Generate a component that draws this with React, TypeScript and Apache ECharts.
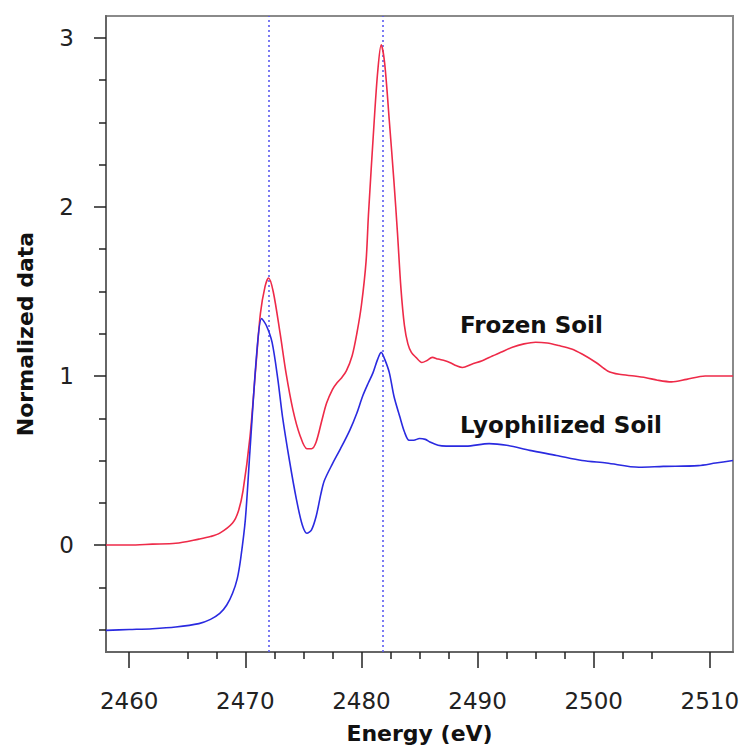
import React, { useEffect, useRef } from "react";
import * as echarts from "echarts";

const frozenE = [2458, 2460, 2462, 2464, 2466, 2467, 2467.8, 2468.9, 2469.4, 2469.8, 2470.4, 2470.9, 2471.3, 2471.7, 2472.0, 2472.4, 2473.0, 2473.5, 2474.1, 2474.7, 2475.3, 2475.7, 2476.1, 2476.6, 2477.0, 2477.5, 2477.9, 2478.3, 2478.7, 2479.2, 2479.6, 2480.0, 2480.4, 2480.6, 2481.1, 2481.4, 2481.7, 2482.0, 2482.4, 2482.8, 2483.1, 2483.4, 2483.7, 2484.0, 2484.3, 2484.7, 2485.2, 2485.6, 2486.1, 2486.6, 2487.2, 2487.6, 2488.2, 2488.7, 2489.5, 2490.4, 2491.0, 2492.0, 2493.0, 2494.0, 2495.0, 2496.0, 2497.0, 2498.1, 2499.0, 2500.2, 2501.2, 2502.2, 2503.5, 2504.5, 2505.5, 2506.7, 2508.0, 2509.6, 2511, 2512];
const frozenY = [0.0, 0.0, 0.005, 0.01, 0.035, 0.05, 0.07, 0.13, 0.2, 0.32, 0.64, 1.05, 1.37, 1.53, 1.58, 1.5, 1.25, 1.02, 0.8, 0.65, 0.57, 0.57, 0.61, 0.74, 0.84, 0.92, 0.96, 0.99, 1.03, 1.12, 1.25, 1.42, 1.68, 1.95, 2.51, 2.8, 2.96, 2.85, 2.51, 2.15, 1.85, 1.52, 1.3, 1.19, 1.14, 1.11, 1.08, 1.09, 1.11, 1.1, 1.09, 1.08, 1.06, 1.05, 1.07, 1.09, 1.11, 1.14, 1.17, 1.19, 1.2, 1.195, 1.18, 1.16, 1.13, 1.08, 1.03, 1.01, 1.0, 0.99, 0.975, 0.965, 0.98, 1.0, 1.0, 1.0];

const lyoE = [2458, 2460, 2462, 2464, 2466, 2467, 2467.8, 2468.4, 2468.9, 2469.3, 2469.6, 2470.0, 2470.4, 2471.0, 2471.4, 2471.8, 2472.3, 2472.8, 2473.2, 2473.8, 2474.4, 2474.9, 2475.3, 2475.7, 2476.1, 2476.5, 2476.8, 2477.5, 2478.2, 2479.0, 2479.6, 2480.1, 2480.6, 2481.0, 2481.4, 2481.7, 2482.0, 2482.4, 2482.8, 2483.3, 2483.7, 2484.1, 2484.5, 2485.0, 2485.5, 2485.9, 2486.6, 2487.3, 2489.0, 2491.0, 2492.5, 2494.5, 2496.8, 2499.0, 2501.1, 2503.9, 2506.0, 2509.0, 2510.5, 2512];
const lyoY = [-0.505, -0.5, -0.495, -0.485, -0.465, -0.44, -0.405, -0.355, -0.285, -0.2, -0.08, 0.15, 0.56, 1.15, 1.34, 1.3, 1.2, 0.98, 0.76, 0.5, 0.27, 0.12, 0.07, 0.09, 0.17, 0.3, 0.38, 0.48, 0.57, 0.68, 0.78, 0.88, 0.96, 1.02, 1.1, 1.14, 1.1, 1.02, 0.88, 0.76, 0.67, 0.62, 0.62, 0.63, 0.625, 0.61, 0.59, 0.585, 0.585, 0.6, 0.59, 0.56, 0.53, 0.5, 0.485, 0.46, 0.465, 0.47, 0.485, 0.5];

const edgeMarkers = [2472.0, 2481.8];

const xMajorTicks = [2460, 2470, 2480, 2490, 2500, 2510];
const xMinorTicks = [2465, 2467.5, 2472.5, 2475, 2477.5, 2482.5, 2485, 2487.5, 2492.5, 2495, 2497.5, 2502.5, 2505];
const yMajorTicks = [0, 1, 2, 3];
const yMinorTicks = [-0.5, -0.25, 0.25, 0.5, 0.75, 1.25, 1.5, 1.75, 2.25, 2.5, 2.75];

const seriesNames = ["Frozen Soil", "Lyophilized Soil"];

const FONT = "DejaVu Sans";

export default function App() {
  const ref = useRef<HTMLDivElement>(null);
  useEffect(() => {
    if (!ref.current) return;
    const chart = echarts.init(ref.current, null, { renderer: "svg" });
    const xMin = 2458;
    const xMax = 2512;
    const yMin = -0.633;
    const yMax = 3.13;
    const tickColor = "#222";
    chart.setOption({
      animation: false,
      backgroundColor: "#fff",
      grid: {
        left: 106,
        right: 13,
        top: 16,
        bottom: 97,
        show: true,
        borderColor: "#8a8a8a",
        borderWidth: 2,
      },
      xAxis: [
        {
          type: "value",
          min: xMin,
          max: xMax,
          position: "bottom",
          axisLine: { show: true, onZero: false, lineStyle: { color: "#666", width: 2 } },
          axisTick: { show: true, customValues: xMajorTicks, length: 16, lineStyle: { color: tickColor, width: 1.5 } },
          axisLabel: {
            customValues: xMajorTicks,
            margin: 37,
            fontSize: 23,
            fontFamily: FONT,
            color: "#222",
            formatter: (v: number) => String(Math.round(v)),
          },
          splitLine: { show: false },
          name: "Energy (eV)",
          nameLocation: "middle",
          nameGap: 70,
          nameTextStyle: { fontSize: 22, fontWeight: "bold", fontFamily: FONT, color: "#111" },
        },
        {
          type: "value",
          min: xMin,
          max: xMax,
          position: "bottom",
          axisLine: { show: false, onZero: false },
          axisTick: { show: true, customValues: xMinorTicks, length: 7, lineStyle: { color: tickColor, width: 1.5 } },
          axisLabel: { show: false },
          splitLine: { show: false },
        },
      ],
      yAxis: [
        {
          type: "value",
          min: yMin,
          max: yMax,
          position: "left",
          axisLine: { show: true, onZero: false, lineStyle: { color: "#666", width: 2 } },
          axisTick: { show: true, customValues: yMajorTicks, length: 12, lineStyle: { color: tickColor, width: 1.5 } },
          axisLabel: {
            customValues: yMajorTicks,
            margin: 32,
            fontSize: 23,
            fontFamily: FONT,
            color: "#222",
            formatter: (v: number) => String(v),
          },
          splitLine: { show: false },
          name: "Normalized data",
          nameLocation: "middle",
          nameGap: 70,
          nameTextStyle: { fontSize: 22, fontWeight: "bold", fontFamily: FONT, color: "#111" },
        },
        {
          type: "value",
          min: yMin,
          max: yMax,
          position: "left",
          axisLine: { show: false, onZero: false },
          axisTick: { show: true, customValues: yMinorTicks, length: 7, lineStyle: { color: tickColor, width: 1.5 } },
          axisLabel: { show: false },
          splitLine: { show: false },
        },
      ],
      series: [
        {
          name: seriesNames[0],
          type: "line",
          xAxisIndex: 0,
          yAxisIndex: 0,
          data: frozenE.map((e, i) => [e, frozenY[i]]),
          showSymbol: false,
          smooth: 0.3,
          lineStyle: { color: "#ee2a48", width: 1.6 },
          z: 3,
          markLine: {
            silent: true,
            symbol: ["none", "none"],
            label: { show: false },
            lineStyle: { color: "#5b5bf0", type: [2, 3], width: 1.6 },
            data: edgeMarkers.map((v) => ({ xAxis: v })),
            z: 2,
          },
        },
        {
          name: seriesNames[1],
          type: "line",
          xAxisIndex: 0,
          yAxisIndex: 0,
          data: lyoE.map((e, i) => [e, lyoY[i]]),
          showSymbol: false,
          smooth: 0.3,
          lineStyle: { color: "#2a2ae0", width: 1.6 },
          z: 4,
        },
      ],
      graphic: [
        {
          type: "text",
          x: 460,
          y: 325,
          style: {
            text: seriesNames[0],
            font: `bold 23px "${FONT}"`,
            fill: "#111",
            verticalAlign: "middle",
            align: "left",
          },
        },
        {
          type: "text",
          x: 460,
          y: 425,
          style: {
            text: seriesNames[1],
            font: `bold 23px "${FONT}"`,
            fill: "#111",
            verticalAlign: "middle",
            align: "left",
          },
        },
      ],
    });
    return () => chart.dispose();
  }, []);
  return (
    <div
      ref={ref}
      style={{ position: "fixed", left: 0, top: 0, width: 746, height: 749, background: "#fff" }}
    />
  );
}
